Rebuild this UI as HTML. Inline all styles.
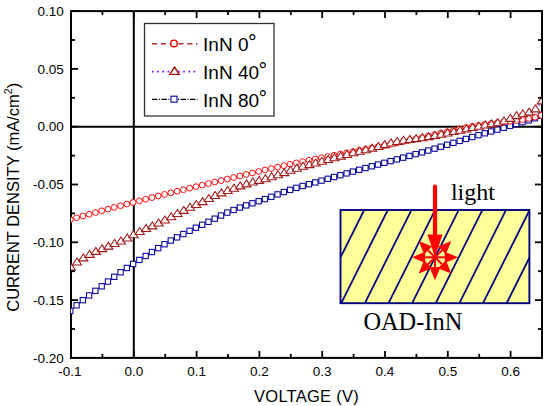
<!DOCTYPE html>
<html><head><meta charset="utf-8"><style>
html,body{margin:0;padding:0;background:#fff;width:550px;height:406px;overflow:hidden}
svg{display:block}
text{font-family:"Liberation Sans",sans-serif}
</style></head><body>
<svg width="550" height="406" viewBox="0 0 550 406">
<defs><clipPath id="pc"><rect x="70.9" y="11.1" width="470.9" height="346.79999999999995"/></clipPath></defs>
<rect width="550" height="406" fill="#fff"/>
<g id="inset">
<clipPath id="ic"><rect x="340.5" y="210.0" width="188.89999999999998" height="93.19999999999999"/></clipPath>
<rect x="340.5" y="210.0" width="188.89999999999998" height="93.19999999999999" fill="#ffff99"/>
<g clip-path="url(#ic)" stroke="#000080" stroke-width="1.75">
<line x1="321.93" y1="200" x2="265.33" y2="313.2"/>
<line x1="345.56" y1="200" x2="288.96" y2="313.2"/>
<line x1="369.19" y1="200" x2="312.59" y2="313.2"/>
<line x1="392.82" y1="200" x2="336.22" y2="313.2"/>
<line x1="416.45" y1="200" x2="359.85" y2="313.2"/>
<line x1="440.08" y1="200" x2="383.48" y2="313.2"/>
<line x1="463.71" y1="200" x2="407.11" y2="313.2"/>
<line x1="487.34" y1="200" x2="430.74" y2="313.2"/>
<line x1="510.97" y1="200" x2="454.37" y2="313.2"/>
<line x1="534.6" y1="200" x2="478" y2="313.2"/>
<line x1="558.23" y1="200" x2="501.63" y2="313.2"/>
<line x1="581.86" y1="200" x2="525.26" y2="313.2"/>
<line x1="605.49" y1="200" x2="548.89" y2="313.2"/>
<line x1="629.12" y1="200" x2="572.52" y2="313.2"/>
</g>
<rect x="340.5" y="210.0" width="188.89999999999998" height="93.19999999999999" fill="none" stroke="#000080" stroke-width="1.9"/>
<g fill="#ff0000" stroke="none">
<polygon points="458,257.3 444.8,262.9 444.8,251.7"/>
<polygon points="451.26,273.56 437.97,268.19 445.89,260.27"/>
<polygon points="435,280.3 429.4,267.1 440.6,267.1"/>
<polygon points="418.74,273.56 424.11,260.27 432.03,268.19"/>
<polygon points="412,257.3 425.2,251.7 425.2,262.9"/>
<polygon points="418.74,241.04 432.03,246.41 424.11,254.33"/>
<polygon points="451.26,241.04 445.89,254.33 437.97,246.41"/>
</g>
<g stroke="#ff0000" fill="none" stroke-width="2">
<line x1="425.2" y1="257.3" x2="444.8" y2="257.3"/>
<line x1="428.07" y1="250.37" x2="441.93" y2="264.23"/>
<line x1="435" y1="247.5" x2="435" y2="267.1"/>
<line x1="441.93" y1="250.37" x2="428.07" y2="264.23"/>
</g>
<line x1="435" y1="186.5" x2="435" y2="238" stroke="#ff0000" stroke-width="4.2" stroke-linecap="round"/>
<polygon points="427.5,234.5 442.5,234.5 435,257.3" fill="#ff0000"/>
</g>
<text x="450.9" y="199.5" style="font-family:&quot;Liberation Serif&quot;,serif" font-size="24" fill="#000">light</text>
<text x="363.4" y="330.1" style="font-family:&quot;Liberation Serif&quot;,serif" font-size="24.4" fill="#000">OAD-InN</text>
<line x1="71" y1="126.7" x2="542" y2="126.7" stroke="#000" stroke-width="2"/>
<line x1="133.8" y1="11.1" x2="133.8" y2="357.9" stroke="#000" stroke-width="2"/>
<rect x="71" y="11.1" width="471" height="346.79999999999995" fill="none" stroke="#000" stroke-width="2"/>
<g clip-path="url(#pc)">
<polyline points="70.3,310.98 76.58,305.29 82.86,300.16 89.14,295.42 95.42,290.85 101.7,286.27 107.98,281.55 114.26,276.8 120.54,272.24 126.82,267.98 133.1,263.93 139.38,259.93 145.66,255.97 151.94,252.04 158.22,248.13 164.5,244.23 170.78,240.55 177.06,237.36 183.34,234.08 189.62,230.8 195.9,227.74 202.18,224.8 208.46,221.81 214.74,218.67 221.02,215.52 227.3,212.58 233.58,209.95 239.86,207.58 246.14,205.38 252.42,203.29 258.7,201.22 264.98,199.09 271.26,196.83 277.54,194.41 283.82,192.02 290.1,189.84 296.38,187.86 302.66,186 308.94,184.21 315.22,182.41 321.5,180.61 327.78,178.8 334.06,176.99 340.34,175.19 346.62,173.39 352.9,171.6 359.18,169.82 365.46,168.05 371.74,166.29 378.02,164.56 384.3,162.83 390.58,161.11 396.86,159.39 403.14,157.66 409.42,155.91 415.7,154.14 421.98,152.35 428.26,150.51 434.54,148.64 440.82,146.73 447.1,144.8 453.38,142.85 459.66,140.9 465.94,138.96 472.22,137.04 478.5,135.15 484.78,133.29 491.06,131.47 497.34,129.65 503.62,127.79 509.9,125.85 516.18,123.93 522.46,122.15 528.74,120.34 535.02,118.24 541.3,115.6" fill="none" stroke="#000" stroke-width="1" stroke-dasharray="5 1.5 1 1.5"/>
<g fill="#fff" stroke="#0c0ca0" stroke-width="1.1">
<rect x="67.65" y="308.33" width="5.3" height="5.3"/>
<rect x="73.93" y="302.64" width="5.3" height="5.3"/>
<rect x="80.21" y="297.51" width="5.3" height="5.3"/>
<rect x="86.49" y="292.77" width="5.3" height="5.3"/>
<rect x="92.77" y="288.2" width="5.3" height="5.3"/>
<rect x="99.05" y="283.62" width="5.3" height="5.3"/>
<rect x="105.33" y="278.9" width="5.3" height="5.3"/>
<rect x="111.61" y="274.15" width="5.3" height="5.3"/>
<rect x="117.89" y="269.59" width="5.3" height="5.3"/>
<rect x="124.17" y="265.33" width="5.3" height="5.3"/>
<rect x="130.45" y="261.28" width="5.3" height="5.3"/>
<rect x="136.73" y="257.28" width="5.3" height="5.3"/>
<rect x="143.01" y="253.32" width="5.3" height="5.3"/>
<rect x="149.29" y="249.39" width="5.3" height="5.3"/>
<rect x="155.57" y="245.48" width="5.3" height="5.3"/>
<rect x="161.85" y="241.58" width="5.3" height="5.3"/>
<rect x="168.13" y="237.9" width="5.3" height="5.3"/>
<rect x="174.41" y="234.71" width="5.3" height="5.3"/>
<rect x="180.69" y="231.43" width="5.3" height="5.3"/>
<rect x="186.97" y="228.15" width="5.3" height="5.3"/>
<rect x="193.25" y="225.09" width="5.3" height="5.3"/>
<rect x="199.53" y="222.15" width="5.3" height="5.3"/>
<rect x="205.81" y="219.16" width="5.3" height="5.3"/>
<rect x="212.09" y="216.02" width="5.3" height="5.3"/>
<rect x="218.37" y="212.87" width="5.3" height="5.3"/>
<rect x="224.65" y="209.93" width="5.3" height="5.3"/>
<rect x="230.93" y="207.3" width="5.3" height="5.3"/>
<rect x="237.21" y="204.93" width="5.3" height="5.3"/>
<rect x="243.49" y="202.73" width="5.3" height="5.3"/>
<rect x="249.77" y="200.64" width="5.3" height="5.3"/>
<rect x="256.05" y="198.57" width="5.3" height="5.3"/>
<rect x="262.33" y="196.44" width="5.3" height="5.3"/>
<rect x="268.61" y="194.18" width="5.3" height="5.3"/>
<rect x="274.89" y="191.76" width="5.3" height="5.3"/>
<rect x="281.17" y="189.37" width="5.3" height="5.3"/>
<rect x="287.45" y="187.19" width="5.3" height="5.3"/>
<rect x="293.73" y="185.21" width="5.3" height="5.3"/>
<rect x="300.01" y="183.35" width="5.3" height="5.3"/>
<rect x="306.29" y="181.56" width="5.3" height="5.3"/>
<rect x="312.57" y="179.76" width="5.3" height="5.3"/>
<rect x="318.85" y="177.96" width="5.3" height="5.3"/>
<rect x="325.13" y="176.15" width="5.3" height="5.3"/>
<rect x="331.41" y="174.34" width="5.3" height="5.3"/>
<rect x="337.69" y="172.54" width="5.3" height="5.3"/>
<rect x="343.97" y="170.74" width="5.3" height="5.3"/>
<rect x="350.25" y="168.95" width="5.3" height="5.3"/>
<rect x="356.53" y="167.17" width="5.3" height="5.3"/>
<rect x="362.81" y="165.4" width="5.3" height="5.3"/>
<rect x="369.09" y="163.64" width="5.3" height="5.3"/>
<rect x="375.37" y="161.91" width="5.3" height="5.3"/>
<rect x="381.65" y="160.18" width="5.3" height="5.3"/>
<rect x="387.93" y="158.46" width="5.3" height="5.3"/>
<rect x="394.21" y="156.74" width="5.3" height="5.3"/>
<rect x="400.49" y="155.01" width="5.3" height="5.3"/>
<rect x="406.77" y="153.26" width="5.3" height="5.3"/>
<rect x="413.05" y="151.49" width="5.3" height="5.3"/>
<rect x="419.33" y="149.7" width="5.3" height="5.3"/>
<rect x="425.61" y="147.86" width="5.3" height="5.3"/>
<rect x="431.89" y="145.99" width="5.3" height="5.3"/>
<rect x="438.17" y="144.08" width="5.3" height="5.3"/>
<rect x="444.45" y="142.15" width="5.3" height="5.3"/>
<rect x="450.73" y="140.2" width="5.3" height="5.3"/>
<rect x="457.01" y="138.25" width="5.3" height="5.3"/>
<rect x="463.29" y="136.31" width="5.3" height="5.3"/>
<rect x="469.57" y="134.39" width="5.3" height="5.3"/>
<rect x="475.85" y="132.5" width="5.3" height="5.3"/>
<rect x="482.13" y="130.64" width="5.3" height="5.3"/>
<rect x="488.41" y="128.82" width="5.3" height="5.3"/>
<rect x="494.69" y="127" width="5.3" height="5.3"/>
<rect x="500.97" y="125.14" width="5.3" height="5.3"/>
<rect x="507.25" y="123.2" width="5.3" height="5.3"/>
<rect x="513.53" y="121.28" width="5.3" height="5.3"/>
<rect x="519.81" y="119.5" width="5.3" height="5.3"/>
<rect x="526.09" y="117.69" width="5.3" height="5.3"/>
<rect x="532.37" y="115.59" width="5.3" height="5.3"/>
<rect x="538.65" y="112.95" width="5.3" height="5.3"/>
</g>
<polyline points="70.3,219.61 76.58,217.81 82.86,216.03 89.14,214.27 95.42,212.53 101.7,210.81 107.98,209.1 114.26,207.41 120.54,205.74 126.82,204.08 133.1,202.44 139.38,200.81 145.66,199.19 151.94,197.58 158.22,195.99 164.5,194.41 170.78,192.84 177.06,191.27 183.34,189.72 189.62,188.17 195.9,186.63 202.18,185.1 208.46,183.57 214.74,182.05 221.02,180.53 227.3,179.02 233.58,177.5 239.86,175.99 246.14,174.49 252.42,172.98 258.7,171.48 264.98,169.99 271.26,168.52 277.54,167.07 283.82,165.64 290.1,164.25 296.38,162.89 302.66,161.56 308.94,160.26 315.22,158.98 321.5,157.72 327.78,156.48 334.06,155.25 340.34,154.03 346.62,152.82 352.9,151.61 359.18,150.4 365.46,149.19 371.74,147.97 378.02,146.73 384.3,145.49 390.58,144.22 396.86,142.93 403.14,141.62 409.42,140.28 415.7,138.9 421.98,137.49 428.26,136.04 434.54,134.57 440.82,133.1 447.1,131.65 453.38,130.23 459.66,128.87 465.94,127.59 472.22,126.41 478.5,125.34 484.78,124.38 491.06,123.5 497.34,122.7 503.62,121.97 509.9,121.27 516.18,120.53 522.46,119.67 528.74,118.59 535.02,117.19 541.3,115.37" fill="none" stroke="#b03030" stroke-width="1.3" stroke-dasharray="5 4"/>
<g fill="#fff" stroke="#ff0000" stroke-width="0.95">
<circle cx="70.3" cy="219.61" r="2.9"/>
<circle cx="76.58" cy="217.81" r="2.9"/>
<circle cx="82.86" cy="216.03" r="2.9"/>
<circle cx="89.14" cy="214.27" r="2.9"/>
<circle cx="95.42" cy="212.53" r="2.9"/>
<circle cx="101.7" cy="210.81" r="2.9"/>
<circle cx="107.98" cy="209.1" r="2.9"/>
<circle cx="114.26" cy="207.41" r="2.9"/>
<circle cx="120.54" cy="205.74" r="2.9"/>
<circle cx="126.82" cy="204.08" r="2.9"/>
<circle cx="133.1" cy="202.44" r="2.9"/>
<circle cx="139.38" cy="200.81" r="2.9"/>
<circle cx="145.66" cy="199.19" r="2.9"/>
<circle cx="151.94" cy="197.58" r="2.9"/>
<circle cx="158.22" cy="195.99" r="2.9"/>
<circle cx="164.5" cy="194.41" r="2.9"/>
<circle cx="170.78" cy="192.84" r="2.9"/>
<circle cx="177.06" cy="191.27" r="2.9"/>
<circle cx="183.34" cy="189.72" r="2.9"/>
<circle cx="189.62" cy="188.17" r="2.9"/>
<circle cx="195.9" cy="186.63" r="2.9"/>
<circle cx="202.18" cy="185.1" r="2.9"/>
<circle cx="208.46" cy="183.57" r="2.9"/>
<circle cx="214.74" cy="182.05" r="2.9"/>
<circle cx="221.02" cy="180.53" r="2.9"/>
<circle cx="227.3" cy="179.02" r="2.9"/>
<circle cx="233.58" cy="177.5" r="2.9"/>
<circle cx="239.86" cy="175.99" r="2.9"/>
<circle cx="246.14" cy="174.49" r="2.9"/>
<circle cx="252.42" cy="172.98" r="2.9"/>
<circle cx="258.7" cy="171.48" r="2.9"/>
<circle cx="264.98" cy="169.99" r="2.9"/>
<circle cx="271.26" cy="168.52" r="2.9"/>
<circle cx="277.54" cy="167.07" r="2.9"/>
<circle cx="283.82" cy="165.64" r="2.9"/>
<circle cx="290.1" cy="164.25" r="2.9"/>
<circle cx="296.38" cy="162.89" r="2.9"/>
<circle cx="302.66" cy="161.56" r="2.9"/>
<circle cx="308.94" cy="160.26" r="2.9"/>
<circle cx="315.22" cy="158.98" r="2.9"/>
<circle cx="321.5" cy="157.72" r="2.9"/>
<circle cx="327.78" cy="156.48" r="2.9"/>
<circle cx="334.06" cy="155.25" r="2.9"/>
<circle cx="340.34" cy="154.03" r="2.9"/>
<circle cx="346.62" cy="152.82" r="2.9"/>
<circle cx="352.9" cy="151.61" r="2.9"/>
<circle cx="359.18" cy="150.4" r="2.9"/>
<circle cx="365.46" cy="149.19" r="2.9"/>
<circle cx="371.74" cy="147.97" r="2.9"/>
<circle cx="378.02" cy="146.73" r="2.9"/>
<circle cx="384.3" cy="145.49" r="2.9"/>
<circle cx="390.58" cy="144.22" r="2.9"/>
<circle cx="396.86" cy="142.93" r="2.9"/>
<circle cx="403.14" cy="141.62" r="2.9"/>
<circle cx="409.42" cy="140.28" r="2.9"/>
<circle cx="415.7" cy="138.9" r="2.9"/>
<circle cx="421.98" cy="137.49" r="2.9"/>
<circle cx="428.26" cy="136.04" r="2.9"/>
<circle cx="434.54" cy="134.57" r="2.9"/>
<circle cx="440.82" cy="133.1" r="2.9"/>
<circle cx="447.1" cy="131.65" r="2.9"/>
<circle cx="453.38" cy="130.23" r="2.9"/>
<circle cx="459.66" cy="128.87" r="2.9"/>
<circle cx="465.94" cy="127.59" r="2.9"/>
<circle cx="472.22" cy="126.41" r="2.9"/>
<circle cx="478.5" cy="125.34" r="2.9"/>
<circle cx="484.78" cy="124.38" r="2.9"/>
<circle cx="491.06" cy="123.5" r="2.9"/>
<circle cx="497.34" cy="122.7" r="2.9"/>
<circle cx="503.62" cy="121.97" r="2.9"/>
<circle cx="509.9" cy="121.27" r="2.9"/>
<circle cx="516.18" cy="120.53" r="2.9"/>
<circle cx="522.46" cy="119.67" r="2.9"/>
<circle cx="528.74" cy="118.59" r="2.9"/>
<circle cx="535.02" cy="117.19" r="2.9"/>
<circle cx="541.3" cy="115.37" r="2.9"/>
</g>
<polyline points="70.3,268.3 76.58,263.41 82.86,259.29 89.14,255.79 95.42,252.75 101.7,250.04 107.98,247.5 114.26,244.98 120.54,242.32 126.82,239.39 133.1,236.11 139.38,232.83 145.66,229.96 151.94,227.28 158.22,224.43 164.5,221.37 170.78,218.17 177.06,214.94 183.34,211.76 189.62,208.73 195.9,205.9 202.18,203.04 208.46,199.94 214.74,196.89 221.02,194.28 227.3,191.94 233.58,189.56 239.86,187.28 246.14,185.26 252.42,183.46 258.7,181.76 264.98,180.05 271.26,178.2 277.54,176.19 283.82,174.02 290.1,171.73 296.38,169.55 302.66,167.7 308.94,166.01 315.22,164.33 321.5,162.64 327.78,160.94 334.06,159.23 340.34,157.53 346.62,155.86 352.9,154.21 359.18,152.62 365.46,151.07 371.74,149.5 378.02,147.83 384.3,146.04 390.58,144.31 396.86,142.84 403.14,141.69 409.42,140.8 415.7,140 421.98,139.09 428.26,138.04 434.54,136.88 440.82,135.64 447.1,134.33 453.38,132.99 459.66,131.62 465.94,130.26 472.22,128.92 478.5,127.62 484.78,126.4 491.06,125.25 497.34,124.12 503.62,122.45 509.9,119.79 516.18,117.03 522.46,115.2 528.74,113.5 535.02,110.29 541.3,102.29" fill="none" stroke="#8000ff" stroke-width="1.3" stroke-dasharray="1.5 3.5"/>
<g fill="#fff" stroke="#a01818" stroke-width="1.05" stroke-linejoin="miter">
<polygon points="70.7,262.9 75.3,269.9 66.1,269.9"/>
<polygon points="76.98,258.01 81.58,265.01 72.38,265.01"/>
<polygon points="83.26,253.89 87.86,260.89 78.66,260.89"/>
<polygon points="89.54,250.39 94.14,257.39 84.94,257.39"/>
<polygon points="95.82,247.35 100.42,254.35 91.22,254.35"/>
<polygon points="102.1,244.64 106.7,251.64 97.5,251.64"/>
<polygon points="108.38,242.1 112.98,249.1 103.78,249.1"/>
<polygon points="114.66,239.58 119.26,246.58 110.06,246.58"/>
<polygon points="120.94,236.92 125.54,243.92 116.34,243.92"/>
<polygon points="127.22,233.99 131.82,240.99 122.62,240.99"/>
<polygon points="133.5,230.71 138.1,237.71 128.9,237.71"/>
<polygon points="139.78,227.43 144.38,234.43 135.18,234.43"/>
<polygon points="146.06,224.56 150.66,231.56 141.46,231.56"/>
<polygon points="152.34,221.88 156.94,228.88 147.74,228.88"/>
<polygon points="158.62,219.03 163.22,226.03 154.02,226.03"/>
<polygon points="164.9,215.97 169.5,222.97 160.3,222.97"/>
<polygon points="171.18,212.77 175.78,219.77 166.58,219.77"/>
<polygon points="177.46,209.54 182.06,216.54 172.86,216.54"/>
<polygon points="183.74,206.36 188.34,213.36 179.14,213.36"/>
<polygon points="190.02,203.33 194.62,210.33 185.42,210.33"/>
<polygon points="196.3,200.5 200.9,207.5 191.7,207.5"/>
<polygon points="202.58,197.64 207.18,204.64 197.98,204.64"/>
<polygon points="208.86,194.54 213.46,201.54 204.26,201.54"/>
<polygon points="215.14,191.49 219.74,198.49 210.54,198.49"/>
<polygon points="221.42,188.88 226.02,195.88 216.82,195.88"/>
<polygon points="227.7,186.54 232.3,193.54 223.1,193.54"/>
<polygon points="233.98,184.16 238.58,191.16 229.38,191.16"/>
<polygon points="240.26,181.88 244.86,188.88 235.66,188.88"/>
<polygon points="246.54,179.86 251.14,186.86 241.94,186.86"/>
<polygon points="252.82,178.06 257.42,185.06 248.22,185.06"/>
<polygon points="259.1,176.36 263.7,183.36 254.5,183.36"/>
<polygon points="265.38,174.65 269.98,181.65 260.78,181.65"/>
<polygon points="271.66,172.8 276.26,179.8 267.06,179.8"/>
<polygon points="277.94,170.79 282.54,177.79 273.34,177.79"/>
<polygon points="284.22,168.62 288.82,175.62 279.62,175.62"/>
<polygon points="290.5,166.33 295.1,173.33 285.9,173.33"/>
<polygon points="296.78,164.15 301.38,171.15 292.18,171.15"/>
<polygon points="303.06,162.3 307.66,169.3 298.46,169.3"/>
<polygon points="309.34,160.61 313.94,167.61 304.74,167.61"/>
<polygon points="315.62,158.93 320.22,165.93 311.02,165.93"/>
<polygon points="321.9,157.24 326.5,164.24 317.3,164.24"/>
<polygon points="328.18,155.54 332.78,162.54 323.58,162.54"/>
<polygon points="334.46,153.83 339.06,160.83 329.86,160.83"/>
<polygon points="340.74,152.13 345.34,159.13 336.14,159.13"/>
<polygon points="347.02,150.46 351.62,157.46 342.42,157.46"/>
<polygon points="353.3,148.81 357.9,155.81 348.7,155.81"/>
<polygon points="359.58,147.22 364.18,154.22 354.98,154.22"/>
<polygon points="365.86,145.67 370.46,152.67 361.26,152.67"/>
<polygon points="372.14,144.1 376.74,151.1 367.54,151.1"/>
<polygon points="378.42,142.43 383.02,149.43 373.82,149.43"/>
<polygon points="384.7,140.64 389.3,147.64 380.1,147.64"/>
<polygon points="390.98,138.91 395.58,145.91 386.38,145.91"/>
<polygon points="397.26,137.44 401.86,144.44 392.66,144.44"/>
<polygon points="403.54,136.29 408.14,143.29 398.94,143.29"/>
<polygon points="409.82,135.4 414.42,142.4 405.22,142.4"/>
<polygon points="416.1,134.6 420.7,141.6 411.5,141.6"/>
<polygon points="422.38,133.69 426.98,140.69 417.78,140.69"/>
<polygon points="428.66,132.64 433.26,139.64 424.06,139.64"/>
<polygon points="434.94,131.48 439.54,138.48 430.34,138.48"/>
<polygon points="441.22,130.24 445.82,137.24 436.62,137.24"/>
<polygon points="447.5,128.93 452.1,135.93 442.9,135.93"/>
<polygon points="453.78,127.59 458.38,134.59 449.18,134.59"/>
<polygon points="460.06,126.22 464.66,133.22 455.46,133.22"/>
<polygon points="466.34,124.86 470.94,131.86 461.74,131.86"/>
<polygon points="472.62,123.52 477.22,130.52 468.02,130.52"/>
<polygon points="478.9,122.22 483.5,129.22 474.3,129.22"/>
<polygon points="485.18,121 489.78,128 480.58,128"/>
<polygon points="491.46,119.85 496.06,126.85 486.86,126.85"/>
<polygon points="497.74,118.72 502.34,125.72 493.14,125.72"/>
<polygon points="504.02,117.05 508.62,124.05 499.42,124.05"/>
<polygon points="510.3,114.39 514.9,121.39 505.7,121.39"/>
<polygon points="516.58,111.63 521.18,118.63 511.98,118.63"/>
<polygon points="522.86,109.8 527.46,116.8 518.26,116.8"/>
<polygon points="529.14,108.1 533.74,115.1 524.54,115.1"/>
<polygon points="535.42,104.89 540.02,111.89 530.82,111.89"/>
<polygon points="541.7,96.89 546.3,103.89 537.1,103.89"/>
</g>
</g>
<g stroke="#000" stroke-width="1.8">
<line x1="71" y1="357.9" x2="71" y2="350.9"/>
<line x1="71" y1="11.1" x2="71" y2="18.1"/>
<line x1="102.4" y1="357.9" x2="102.4" y2="353.9"/>
<line x1="102.4" y1="11.1" x2="102.4" y2="15.1"/>
<line x1="133.8" y1="357.9" x2="133.8" y2="350.9"/>
<line x1="133.8" y1="11.1" x2="133.8" y2="18.1"/>
<line x1="165.2" y1="357.9" x2="165.2" y2="353.9"/>
<line x1="165.2" y1="11.1" x2="165.2" y2="15.1"/>
<line x1="196.6" y1="357.9" x2="196.6" y2="350.9"/>
<line x1="196.6" y1="11.1" x2="196.6" y2="18.1"/>
<line x1="228" y1="357.9" x2="228" y2="353.9"/>
<line x1="228" y1="11.1" x2="228" y2="15.1"/>
<line x1="259.4" y1="357.9" x2="259.4" y2="350.9"/>
<line x1="259.4" y1="11.1" x2="259.4" y2="18.1"/>
<line x1="290.8" y1="357.9" x2="290.8" y2="353.9"/>
<line x1="290.8" y1="11.1" x2="290.8" y2="15.1"/>
<line x1="322.2" y1="357.9" x2="322.2" y2="350.9"/>
<line x1="322.2" y1="11.1" x2="322.2" y2="18.1"/>
<line x1="353.6" y1="357.9" x2="353.6" y2="353.9"/>
<line x1="353.6" y1="11.1" x2="353.6" y2="15.1"/>
<line x1="385" y1="357.9" x2="385" y2="350.9"/>
<line x1="385" y1="11.1" x2="385" y2="18.1"/>
<line x1="416.4" y1="357.9" x2="416.4" y2="353.9"/>
<line x1="416.4" y1="11.1" x2="416.4" y2="15.1"/>
<line x1="447.8" y1="357.9" x2="447.8" y2="350.9"/>
<line x1="447.8" y1="11.1" x2="447.8" y2="18.1"/>
<line x1="479.2" y1="357.9" x2="479.2" y2="353.9"/>
<line x1="479.2" y1="11.1" x2="479.2" y2="15.1"/>
<line x1="510.6" y1="357.9" x2="510.6" y2="350.9"/>
<line x1="510.6" y1="11.1" x2="510.6" y2="18.1"/>
<line x1="542" y1="357.9" x2="542" y2="353.9"/>
<line x1="542" y1="11.1" x2="542" y2="15.1"/>
<line x1="71" y1="11.1" x2="78" y2="11.1"/>
<line x1="542" y1="11.1" x2="535" y2="11.1"/>
<line x1="71" y1="40" x2="75" y2="40"/>
<line x1="542" y1="40" x2="538" y2="40"/>
<line x1="71" y1="68.9" x2="78" y2="68.9"/>
<line x1="542" y1="68.9" x2="535" y2="68.9"/>
<line x1="71" y1="97.8" x2="75" y2="97.8"/>
<line x1="542" y1="97.8" x2="538" y2="97.8"/>
<line x1="71" y1="126.7" x2="78" y2="126.7"/>
<line x1="542" y1="126.7" x2="535" y2="126.7"/>
<line x1="71" y1="155.6" x2="75" y2="155.6"/>
<line x1="542" y1="155.6" x2="538" y2="155.6"/>
<line x1="71" y1="184.5" x2="78" y2="184.5"/>
<line x1="542" y1="184.5" x2="535" y2="184.5"/>
<line x1="71" y1="213.4" x2="75" y2="213.4"/>
<line x1="542" y1="213.4" x2="538" y2="213.4"/>
<line x1="71" y1="242.3" x2="78" y2="242.3"/>
<line x1="542" y1="242.3" x2="535" y2="242.3"/>
<line x1="71" y1="271.2" x2="75" y2="271.2"/>
<line x1="542" y1="271.2" x2="538" y2="271.2"/>
<line x1="71" y1="300.1" x2="78" y2="300.1"/>
<line x1="542" y1="300.1" x2="535" y2="300.1"/>
<line x1="71" y1="329" x2="75" y2="329"/>
<line x1="542" y1="329" x2="538" y2="329"/>
<line x1="71" y1="357.9" x2="78" y2="357.9"/>
<line x1="542" y1="357.9" x2="535" y2="357.9"/>
</g>
<g font-family="Liberation Sans" font-size="13.5" fill="#000">
<text x="63.8" y="15.8" text-anchor="end">0.10</text>
<text x="63.8" y="73.6" text-anchor="end">0.05</text>
<text x="63.8" y="131.4" text-anchor="end">0.00</text>
<text x="63.8" y="189.2" text-anchor="end">-0.05</text>
<text x="63.8" y="247" text-anchor="end">-0.10</text>
<text x="63.8" y="304.8" text-anchor="end">-0.15</text>
<text x="63.8" y="362.6" text-anchor="end">-0.20</text>
<text x="70" y="375.6" text-anchor="middle">-0.1</text>
<text x="133.8" y="375.6" text-anchor="middle">0.0</text>
<text x="196.6" y="375.6" text-anchor="middle">0.1</text>
<text x="259.4" y="375.6" text-anchor="middle">0.2</text>
<text x="322.2" y="375.6" text-anchor="middle">0.3</text>
<text x="385" y="375.6" text-anchor="middle">0.4</text>
<text x="447.8" y="375.6" text-anchor="middle">0.5</text>
<text x="510.6" y="375.6" text-anchor="middle">0.6</text>
</g>
<text x="306.5" y="401.5" text-anchor="middle" font-family="Liberation Sans" font-size="16.5" letter-spacing="0.25">VOLTAGE (V)</text>
<text transform="translate(18.9,197.3) rotate(-90)" text-anchor="middle" font-family="Liberation Sans" font-size="16.5">CURRENT DENSITY (mA/cm<tspan font-size="10.5" dy="-7">2</tspan><tspan dy="7">)</tspan></text>
<rect x="144.5" y="23.5" width="129.5" height="92.5" fill="#fff" stroke="#333" stroke-width="1.3"/>
<line x1="152" y1="43.7" x2="197.5" y2="43.7" stroke="#b03030" stroke-width="1.5" stroke-dasharray="5.2 3.6"/>
<circle cx="174" cy="43.400000000000006" r="3.3" fill="#fff" stroke="#ff0000" stroke-width="1.4"/>
<line x1="152" y1="71.6" x2="197.5" y2="71.6" stroke="#8000ff" stroke-width="1.6" stroke-dasharray="1.6 3.6"/>
<polygon points="174.5,67 179.2,74.4 169.8,74.4" fill="#fff" stroke="#a01414" stroke-width="1.4"/>
<line x1="152" y1="99.3" x2="197.5" y2="99.3" stroke="#000" stroke-width="1.3" stroke-dasharray="5.5 1.5 1 1.5"/>
<rect x="171" y="96.2" width="6" height="6" fill="#fff" stroke="#1a1aa0" stroke-width="1.2"/>
<g font-family="Liberation Sans" font-size="19" fill="#000">
<text x="203.1" y="50.9">InN 0<tspan dx="-0.5" dy="-1.0" font-size="21.5">&#176;</tspan></text>
<text x="203.1" y="78.8">InN 40<tspan dx="-0.5" dy="-1.0" font-size="21.5">&#176;</tspan></text>
<text x="203.1" y="106.5">InN 80<tspan dx="-0.5" dy="-1.0" font-size="21.5">&#176;</tspan></text>
</g>
</svg>
</body></html>
